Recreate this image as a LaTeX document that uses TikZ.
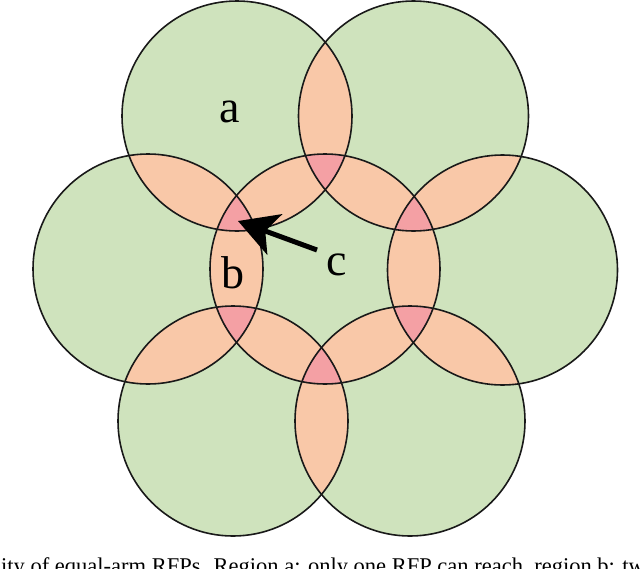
\documentclass[tikz,border=0pt]{standalone}
\usepackage{fontspec}
\setmainfont{Liberation Serif}
\usetikzlibrary{arrows.meta}
\definecolor{regA}{RGB}{207,227,189}
\definecolor{regB}{RGB}{249,200,168}
\definecolor{regC}{RGB}{244,160,164}
\tikzset{
  ring/.style={draw=black!90, line width=1.6pt},
  lbl/.style={font=\fontsize{46}{50}\selectfont, anchor=base, inner sep=0pt},
  pointer/.style={line width=5pt, -{Stealth[length=39pt, width=43pt, inset=10pt]}},
  caption/.style={font=\fontsize{22.5}{26}\selectfont, anchor=base west, inner sep=0pt}
}
\begin{document}
\begin{tikzpicture}[x=1pt,y=-1pt]
\useasboundingbox (0,0) rectangle (640,568);
\clip (0,0) rectangle (640,568);
\def\R{115}
\coordinate (C0) at (325,269);
\coordinate (C1) at (237,116);
\coordinate (C2) at (413.5,116);
\coordinate (C3) at (502.5,270);
\coordinate (C4) at (410,421);
\coordinate (C5) at (233,421);
\coordinate (C6) at (148,269);
% single coverage
\foreach \c in {C0,C1,C2,C3,C4,C5,C6}
  \fill[regA] (\c) circle[radius=\R];
% double coverage
\foreach \a/\b in {C0/C1,C0/C2,C0/C3,C0/C4,C0/C5,C0/C6,C1/C2,C2/C3,C3/C4,C4/C5,C5/C6,C6/C1}{
  \begin{scope}
    \clip (\a) circle[radius=\R];
    \fill[regB] (\b) circle[radius=\R];
  \end{scope}
}
% triple coverage
\foreach \a/\b in {C1/C2,C2/C3,C3/C4,C4/C5,C5/C6,C6/C1}{
  \begin{scope}
    \clip (C0) circle[radius=\R];
    \clip (\a) circle[radius=\R];
    \fill[regC] (\b) circle[radius=\R];
  \end{scope}
}
% outlines
\foreach \c in {C0,C1,C2,C3,C4,C5,C6}
  \draw[ring] (\c) circle[radius=\R];
% labels
\node[lbl] (a) at (230,122) {a};
\node[lbl] (b) at (233,288) {b};
\node[lbl] (c) at (337,275) {c};
\coordinate (ctail) at (317,250);
\coordinate (ctip) at (238,221);
\draw[pointer] (ctail) -- (ctip);
% caption, cut by the lower edge as in the reference
\node[caption] (cap) at (1,573) {ity of equal-arm RFPs. Region a: only one RFP can reach, region b: tw};
\end{tikzpicture}
\end{document}
